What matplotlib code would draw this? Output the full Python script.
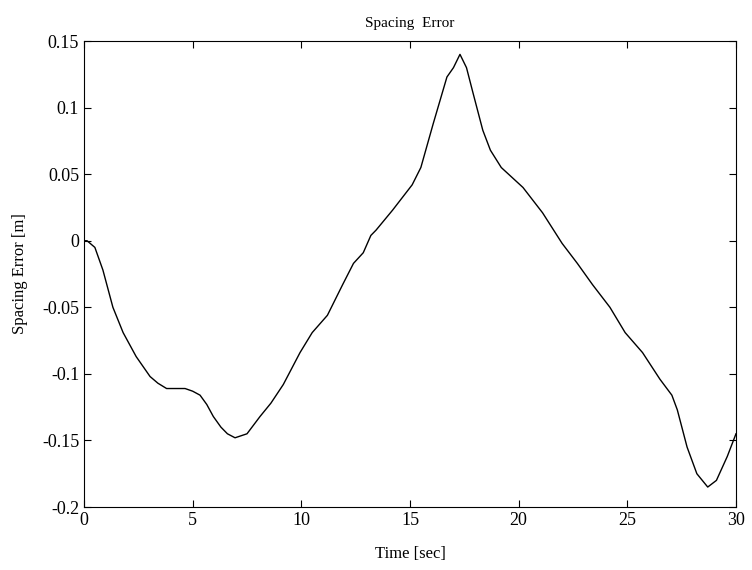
import matplotlib.pyplot as plt

# values
time_s = [0.0, 0.14, 0.5, 0.87, 1.33, 1.8, 2.4, 3.04, 3.4, 3.8, 4.2, 4.65,
          5.0, 5.34, 5.65, 5.95, 6.3, 6.6, 6.95, 7.5, 8.1, 8.6, 9.17, 9.94, 10.5,
          11.2, 11.9, 12.4, 12.85, 13.2, 13.44, 14.2, 15.1, 15.5, 16.07, 16.7, 17.0,
          17.3, 17.6, 17.9, 18.35, 18.7, 19.2, 20.2, 21.1, 22.0, 22.7, 23.4, 24.2,
          24.9, 25.7, 26.5, 27.05, 27.3, 27.75, 28.2, 28.7, 29.1, 29.6, 30.0]
spacing_err = [0.0, 0.0, -0.005, -0.022, -0.050, -0.069, -0.087, -0.102, -0.107,
               -0.111, -0.111, -0.111, -0.113, -0.116, -0.123, -0.132, -0.140, -0.145,
               -0.148, -0.145, -0.132, -0.122, -0.108, -0.084, -0.069, -0.056, -0.033,
               -0.017, -0.009, 0.004, 0.008, 0.023, 0.042, 0.055, 0.088, 0.123, 0.130,
               0.140, 0.130, 0.111, 0.083, 0.068, 0.055, 0.040, 0.021, -0.002, -0.017,
               -0.033, -0.050, -0.069, -0.084, -0.104, -0.116, -0.127, -0.155, -0.175,
               -0.185, -0.180, -0.162, -0.145]

plt.rcParams['font.family'] = ['Liberation Serif', 'DejaVu Serif']

fig = plt.figure(figsize=(7.52, 5.70), dpi=100)
ax = fig.add_axes([0.1117, 0.1105, 0.867, 0.8175])
ax.plot(time_s, spacing_err, color='black', linewidth=1.0)
ax.set_xlim(0, 30)
ax.set_ylim(-0.2, 0.15)
ax.set_xticks([0, 5, 10, 15, 20, 25, 30])
ax.set_yticks([-0.2, -0.15, -0.1, -0.05, 0, 0.05, 0.1, 0.15])
ax.set_yticklabels(['-0.2', '-0.15', '-0.1', '-0.05', '0', '0.05', '0.1', '0.15'])
ax.tick_params(direction='in', top=True, right=True, labelsize=13, length=5)
ax.set_title('Spacing  Error', fontsize=11, pad=10)
ax.set_xlabel('Time [sec]', fontsize=12, labelpad=12)
ax.set_ylabel('Spacing Error [m]', fontsize=12, labelpad=10)

plt.savefig('out.png')
